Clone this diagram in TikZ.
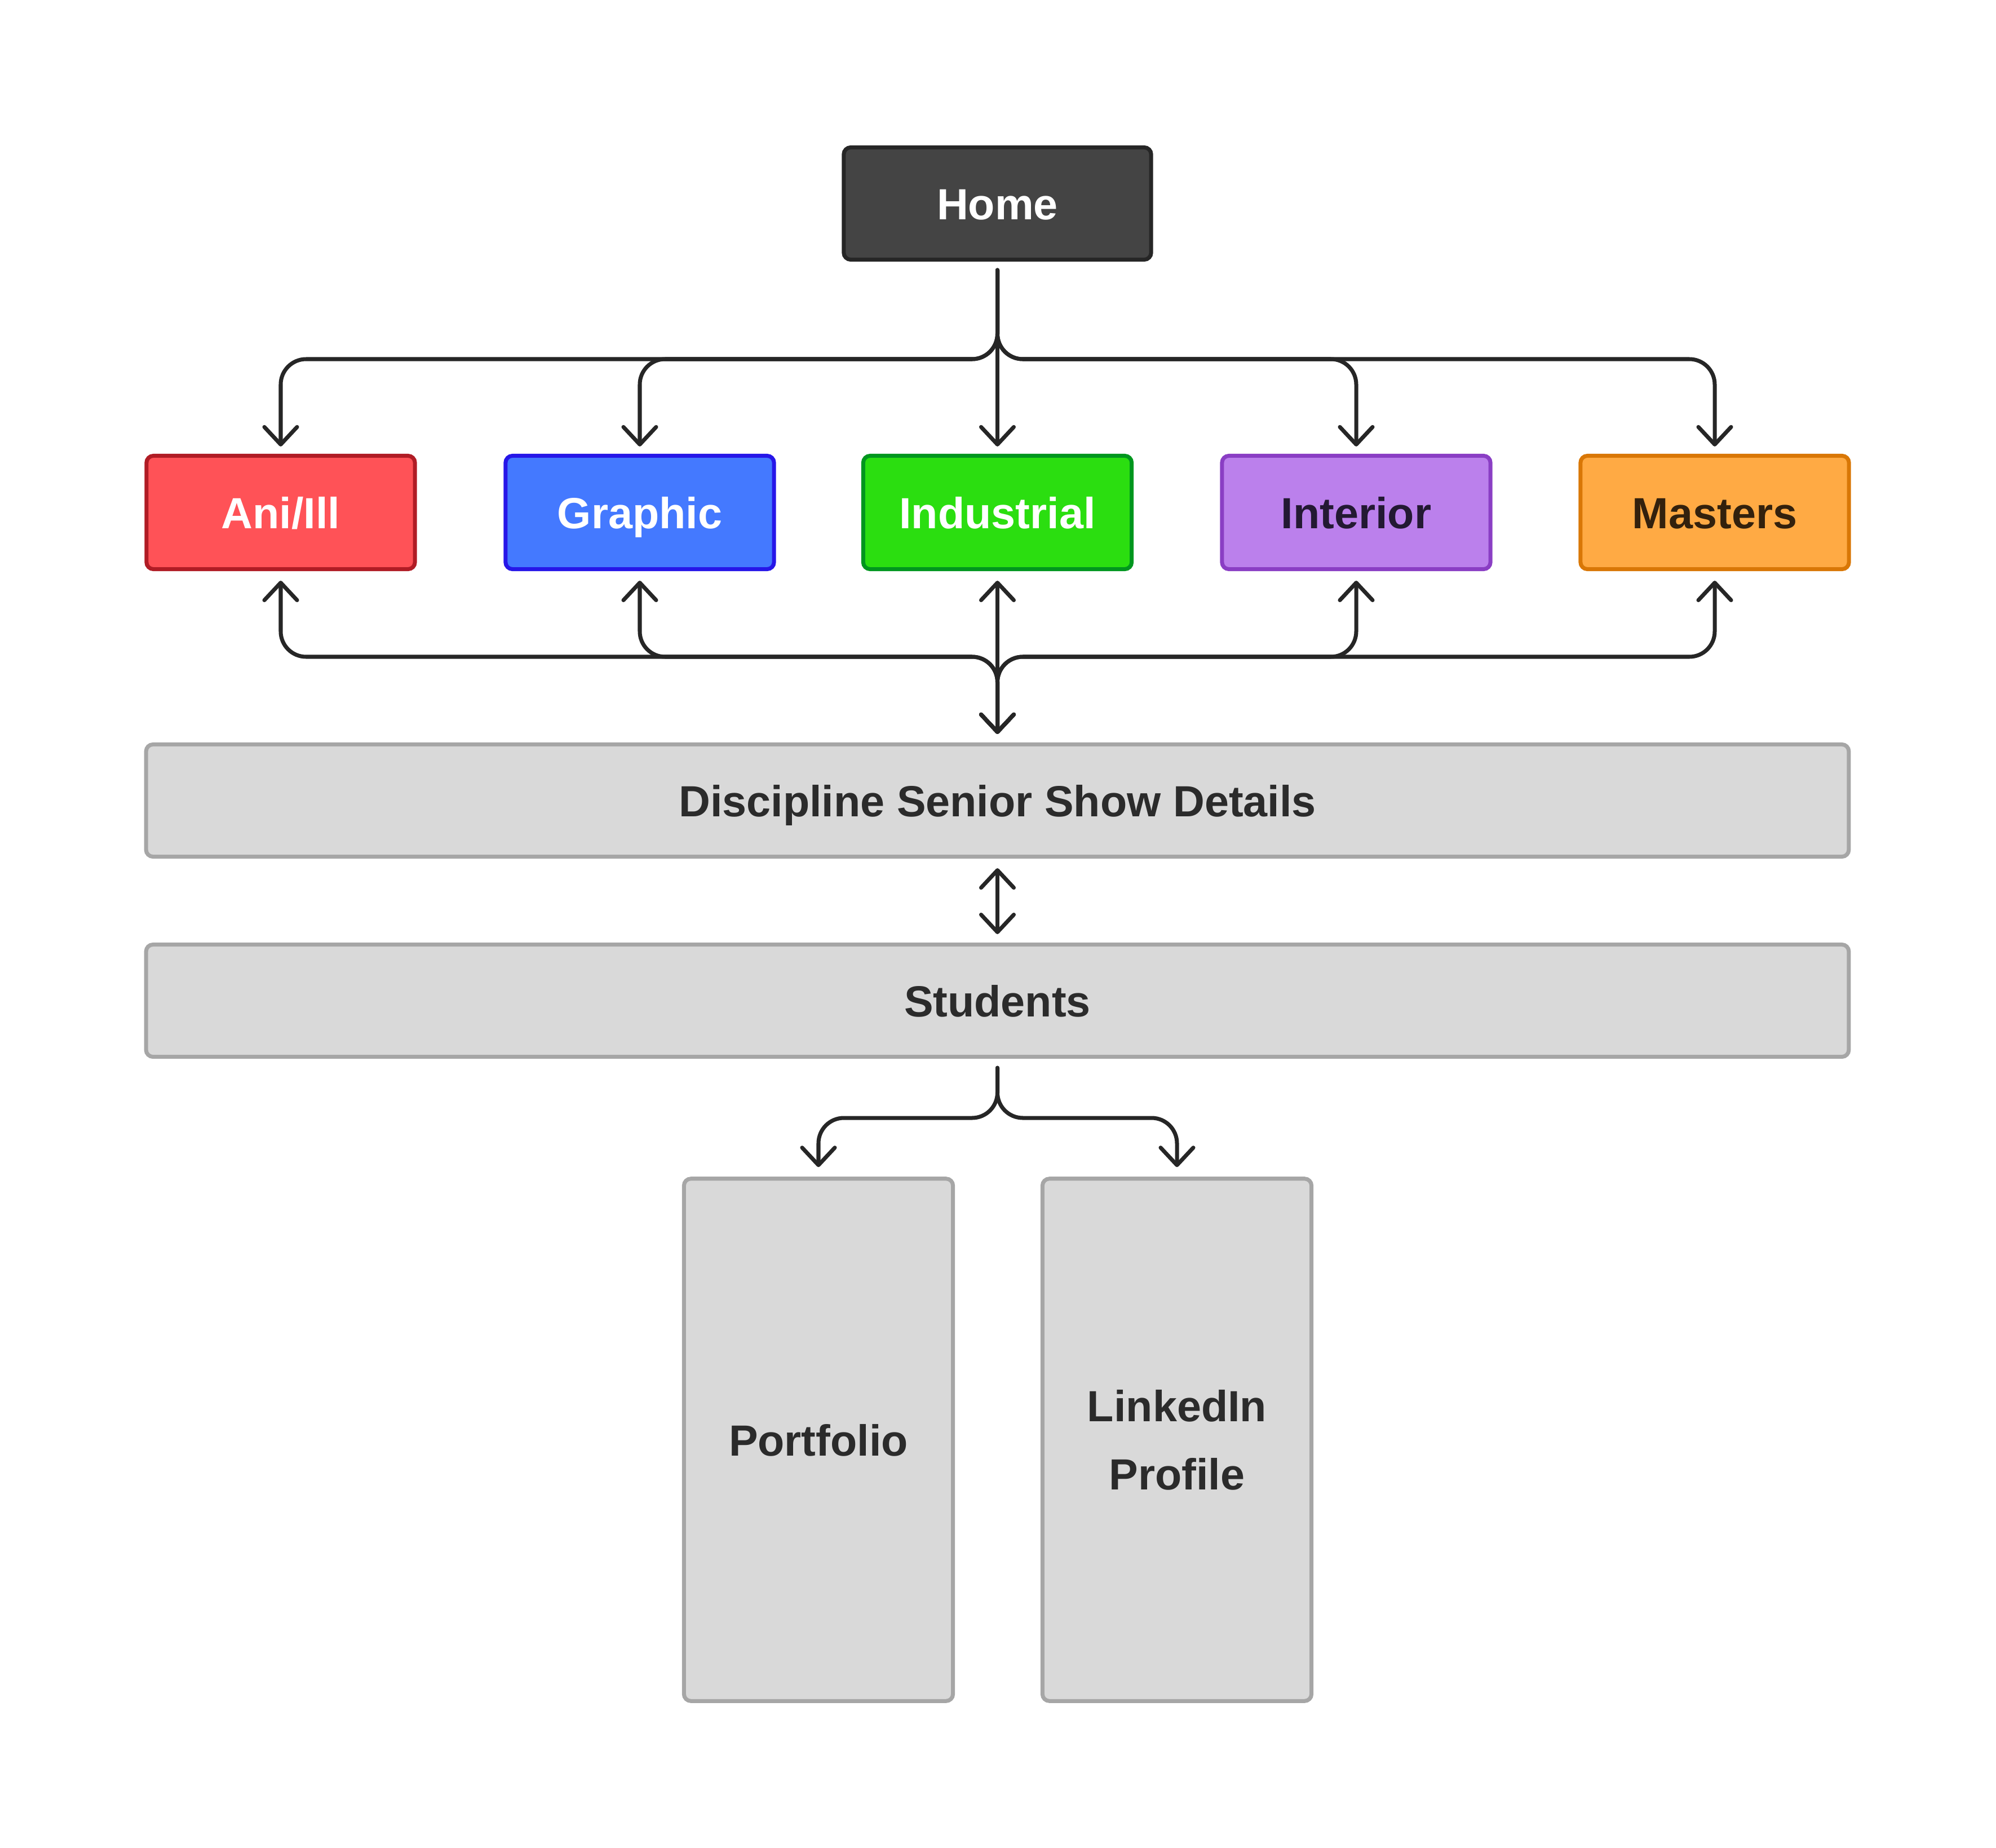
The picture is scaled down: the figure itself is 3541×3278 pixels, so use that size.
\documentclass[tikz,border=0pt]{standalone}
\usepackage{fontspec}
\setmainfont{Liberation Sans}
\usetikzlibrary{arrows.meta,calc}
\definecolor{lineclr}{HTML}{262626}
\definecolor{homefill}{HTML}{444444}
\definecolor{homeline}{HTML}{262626}
\definecolor{anifill}{HTML}{FF5257}
\definecolor{aniline}{HTML}{B01C25}
\definecolor{grafill}{HTML}{4479FF}
\definecolor{graline}{HTML}{2616E8}
\definecolor{indfill}{HTML}{2BDE10}
\definecolor{indline}{HTML}{00961E}
\definecolor{intfill}{HTML}{BB80EC}
\definecolor{intline}{HTML}{8A3EC4}
\definecolor{inttext}{HTML}{231933}
\definecolor{masfill}{HTML}{FFAA44}
\definecolor{masline}{HTML}{D97706}
\definecolor{mastext}{HTML}{33210D}
\definecolor{grayfill}{HTML}{D9D9D9}
\definecolor{grayline}{HTML}{A6A6A6}
\definecolor{graytext}{HTML}{2B2B2B}
\begin{document}
\begin{tikzpicture}[x=0.01cm,y=-0.01cm,
  box/.style={draw, line width=2pt, rounded corners=3.5pt, minimum width=4.76cm,
    minimum height=2.01cm, inner sep=0pt, align=center,
    font=\fontsize{22}{34.5}\selectfont\bfseries},
  oneline/.style={text height=0.72cm, text depth=0.16cm},
  graybox/.style={box, fill=grayfill, draw=grayline, text=graytext},
  conn/.style={draw=lineclr, line width=2pt, rounded corners=0.45cm, line cap=round, line join=round},
  tipend/.style={-{Straight Barb[length=0.31cm,width=0.58cm,round]}},
  tipboth/.style={{Straight Barb[length=0.31cm,width=0.58cm,round]}-{Straight Barb[length=0.31cm,width=0.58cm,round]}}
]
\useasboundingbox (0,0) rectangle (3541,3278);

\node[box, oneline, fill=homefill, draw=homeline, text=white, minimum width=5.45cm, minimum height=1.99cm] (home) at (1769.5,361) {Home};

\node[box, oneline, fill=anifill, draw=aniline, text=white] (ani) at (498,909) {Ani/Ill};
\node[box, oneline, fill=grafill, draw=graline, text=white] (graphic) at (1135,909) {Graphic};
\node[box, oneline, fill=indfill, draw=indline, text=white] (industrial) at (1769.5,909) {Industrial};
\node[box, oneline, fill=intfill, draw=intline, text=inttext] (interior) at (2406,909) {Interior};
\node[box, oneline, fill=masfill, draw=masline, text=mastext] (masters) at (3042,909) {Masters};

\node[graybox, oneline, minimum width=30.19cm, minimum height=1.99cm] (disc) at (1769.5,1420) {Discipline Senior Show Details};
\node[graybox, oneline, minimum width=30.19cm, minimum height=1.99cm] (students) at (1769.5,1775) {Students};

\node[graybox, oneline, minimum width=4.77cm, minimum height=9.26cm] (portfolio) at (1452,2554) {Portfolio};
\node[graybox, minimum width=4.77cm, minimum height=9.26cm] (linkedin) at (2088,2554) {LinkedIn\\Profile};

% top bus
\coordinate (hs) at ($(home.south)+(0,15)$);
\coordinate (busA) at (0,637);
\foreach \n in {ani,graphic,interior,masters}{
  \draw[conn, tipend] (hs) |- (\n.north |- busA) -- ($(\n.north)+(0,-13)$);
}
\draw[conn, tipend] (hs) -- ($(industrial.north)+(0,-13)$);

% bottom bus
\coordinate (dn) at ($(disc.north)+(0,-15)$);
\coordinate (busB) at (0,1165);
\foreach \n in {ani,graphic,interior,masters}{
  \draw[conn, tipboth] ($(\n.south)+(0,17)$) -- (\n.south |- busB) -| (dn);
}
\draw[conn, tipboth] ($(industrial.south)+(0,17)$) -- (dn);

% discipline <-> students
\draw[conn, tipboth] ($(disc.south)+(0,17)$) -- ($(students.north)+(0,-15)$);

% students -> portfolio / linkedin
\coordinate (ss) at ($(students.south)+(0,16)$);
\coordinate (busC) at (0,1983);
\draw[conn, tipend] (ss) |- (portfolio.north |- busC) -- ($(portfolio.north)+(0,-17)$);
\draw[conn, tipend] (ss) |- (linkedin.north |- busC) -- ($(linkedin.north)+(0,-17)$);
\end{tikzpicture}
\end{document}
